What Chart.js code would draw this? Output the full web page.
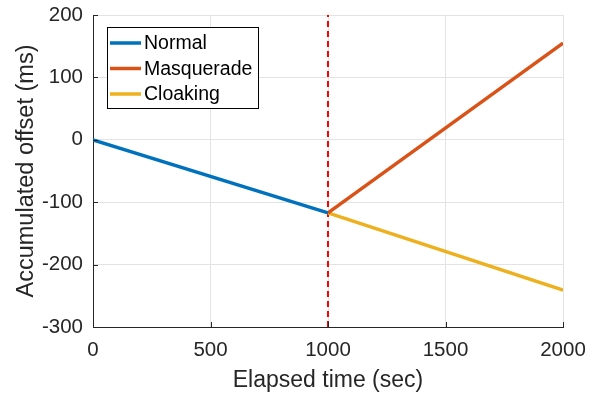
<!DOCTYPE html>
<html>
<head>
<meta charset="utf-8">
<script src="https://cdn.jsdelivr.net/npm/chart.js@4/dist/chart.umd.min.js"></script>
<style>
  html, body { margin: 0; padding: 0; background: #fff; }
  #wrap { width: 593px; height: 397px; }
</style>
</head>
<body>
<div id="wrap"><canvas id="offsetChart" width="593" height="397"></canvas></div>
<script>
"use strict";
// ========== DATA ========== //
const seriesNames = ["Normal", "Masquerade", "Cloaking"];
const seriesColors = ["#0072BD", "#D95319", "#EDB120"];
const normalTime = [0, 1000];
const normalOffset = [0, -117];
const masqueradeTime = [1000, 2000];
const masqueradeOffset = [-117, 155];
const cloakingTime = [1000, 2000];
const cloakingOffset = [-117, -241];
const switchTime = [1000, 1000];
const switchOffset = [-300, 200];
const xTicks = [0, 500, 1000, 1500, 2000];
const yTicks = [-300, -200, -100, 0, 100, 200];

const axisColor = "#262626";
const gridColor = "#e3e3e3";
const fontFamily = "'Liberation Sans', Arial, Helvetica, sans-serif";

// zip two arrays into {x, y} points
function toPoints(xs, ys) {
  return xs.map((x, i) => ({ x: x, y: ys[i] }));
}

// draw inward ticks and the boxed legend like the original figure
const matlabLook = {
  id: "matlabLook",
  afterDraw(chart) {
    const ctx = chart.ctx;
    const area = chart.chartArea;
    const xs = chart.scales.x;
    const ys = chart.scales.y;
    ctx.save();
    ctx.strokeStyle = axisColor;
    ctx.lineWidth = 1;
    ctx.beginPath();
    for (let v of xTicks) {
      let px = Math.round(xs.getPixelForValue(v)) + 0.5;
      ctx.moveTo(px, area.bottom);
      ctx.lineTo(px, area.bottom - 5);
    }
    for (let v of yTicks) {
      let py = Math.round(ys.getPixelForValue(v)) + 0.5;
      ctx.moveTo(area.left, py);
      ctx.lineTo(area.left + 5, py);
    }
    ctx.stroke();

    // legend box
    const box = { x: 107.5, y: 27.5, w: 151, h: 81 };
    ctx.fillStyle = "#fff";
    ctx.fillRect(box.x, box.y, box.w, box.h);
    ctx.strokeStyle = "#000";
    ctx.strokeRect(box.x, box.y, box.w, box.h);
    ctx.font = "19.5px " + fontFamily;
    ctx.textBaseline = "middle";
    ctx.textAlign = "left";
    for (let i = 0; i < seriesNames.length; i++) {
      let ly = 43 + i * 25.5;
      ctx.strokeStyle = seriesColors[i];
      ctx.lineWidth = 3.5;
      ctx.beginPath();
      ctx.moveTo(110, ly);
      ctx.lineTo(141, ly);
      ctx.stroke();
      ctx.fillStyle = "#000";
      ctx.fillText(seriesNames[i], 144, ly + 1);
    }
    ctx.restore();
  }
};

const datasets = [
  { label: seriesNames[0], data: toPoints(normalTime, normalOffset), borderColor: seriesColors[0] },
  { label: seriesNames[1], data: toPoints(masqueradeTime, masqueradeOffset), borderColor: seriesColors[1] },
  { label: seriesNames[2], data: toPoints(cloakingTime, cloakingOffset), borderColor: seriesColors[2] },
  { label: "switch", data: toPoints(switchTime, switchOffset), borderColor: "#ff0000", borderWidth: 2, borderDash: [6, 4] }
].map(ds => Object.assign({ borderWidth: 3.5, pointRadius: 0, fill: false, tension: 0 }, ds));

new Chart(document.querySelector("#offsetChart"), {
  type: "line",
  data: { datasets: datasets },
  plugins: [matlabLook],
  options: {
    responsive: false,
    animation: false,
    layout: { padding: { top: 15, right: 30, left: 0, bottom: 0 } },
    plugins: { legend: { display: false }, tooltip: { enabled: false } },
    scales: {
      x: {
        type: "linear",
        min: 0, max: 2000,
        afterBuildTicks: s => { s.ticks = xTicks.map(v => ({ value: v })); },
        afterFit: s => { s.height = 70; s.paddingLeft = 0; s.paddingRight = 0; },
        grid: { color: gridColor, drawTicks: false },
        border: { color: axisColor, width: 1 },
        ticks: { color: axisColor, padding: 11, font: { family: fontFamily, size: 20.5 }, maxRotation: 0, callback: v => String(v) },
        title: { display: true, text: "Elapsed time (sec)", color: axisColor, font: { family: fontFamily, size: 23 }, padding: { top: 0, bottom: 3 } }
      },
      y: {
        type: "linear",
        min: -300, max: 200,
        afterBuildTicks: s => { s.ticks = yTicks.map(v => ({ value: v })); },
        afterFit: s => { s.width = 93; s.paddingTop = 0; s.paddingBottom = 0; },
        grid: { color: gridColor, drawTicks: false },
        border: { color: axisColor, width: 1 },
        ticks: { color: axisColor, padding: 10, font: { family: fontFamily, size: 20.5 }, callback: v => String(v) },
        title: { display: true, text: "Accumulated offset (ms)", color: axisColor, font: { family: fontFamily, size: 23.5 }, padding: { top: 12, bottom: 0 } }
      }
    }
  }
});
</script>
</body>
</html>
